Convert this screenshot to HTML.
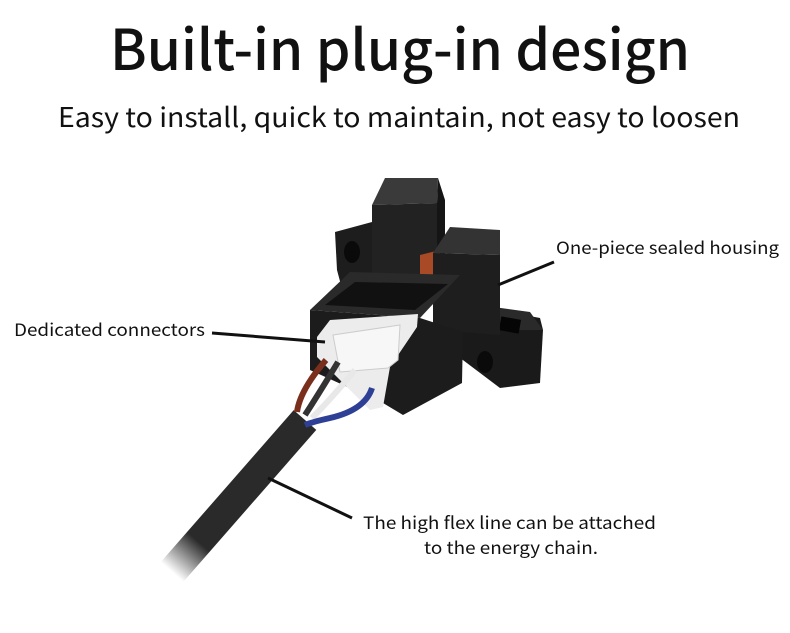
<!DOCTYPE html>
<html><head><meta charset="utf-8"><style>
html,body{margin:0;padding:0;background:#fff}
svg{display:block}
text{font-family:"Noto Sans CJK SC","Liberation Sans",sans-serif;fill:#111}
</style></head><body>
<svg width="790" height="633" viewBox="0 0 790 633" xmlns="http://www.w3.org/2000/svg">
<defs>
<linearGradient id="cg" x1="305" y1="420" x2="172" y2="572" gradientUnits="userSpaceOnUse">
<stop offset="0" stop-color="#2a2a2a"/><stop offset="0.8" stop-color="#2a2a2a"/><stop offset="1" stop-color="#fff"/>
</linearGradient>
</defs>
<rect width="790" height="633" fill="#fff"/>
<text x="400" y="70" font-size="56" font-weight="500" text-anchor="middle" textLength="580" lengthAdjust="spacingAndGlyphs">Built-in plug-in design</text>
<text x="399" y="127" font-size="27" text-anchor="middle" textLength="682" lengthAdjust="spacingAndGlyphs">Easy to install, quick to maintain, not easy to loosen</text>

<!-- cable -->
<path d="M305 420 L172 572" stroke="url(#cg)" stroke-width="30"/>

<!-- rear base block -->
<polygon points="335,232 372,222 372,290 345,300 337,270" fill="#1d1d1d"/>
<ellipse cx="352" cy="252" rx="8" ry="11" fill="#0a0a0a"/>
<!-- rear pillar -->
<polygon points="372,205 385,178 438,178 437,203" fill="#3a3a3a"/>
<polygon points="372,205 437,203 437,290 372,292" fill="#222"/>
<polygon points="437,203 438,178 445,200 445,285 437,290" fill="#151515"/>
<!-- orange coil -->
<polygon points="420,255 440,250 440,300 420,305" fill="#a84a25"/>
<!-- right wing -->
<polygon points="443,300 540,318 543,330 540,383 500,388 443,345" fill="#1a1a1a"/>
<polygon points="443,300 530,312 543,330 495,330" fill="#2a2a2a"/>
<rect x="500" y="318" width="20" height="14" fill="#050505" transform="rotate(10 510 325)"/>
<ellipse cx="485" cy="362" rx="8" ry="11" fill="#0a0a0a"/>
<!-- front pillar -->
<polygon points="433,253 450,227 500,230 500,255" fill="#333"/>
<polygon points="433,253 500,255 500,335 433,330" fill="#1e1e1e"/>
<!-- main base -->
<polygon points="310,310 350,272 460,275 420,318" fill="#2a2a2a"/>
<polygon points="325,305 355,282 448,284 415,310" fill="#111"/>
<polygon points="310,310 420,318 463,332 462,383 403,415 383,403 310,370" fill="#1c1c1c"/>
<!-- white connector -->
<polygon points="317,337 330,320 418,314 417,327 390,367 383,407 370,410 317,357" fill="#ececec"/>
<polygon points="333,335 400,325 398,360 388,368 340,372" fill="#f7f7f7" stroke="#ccc" stroke-width="1"/>
<!-- wires -->
<path d="M326 360 Q300 390 297 412" stroke="#7a2f1d" stroke-width="6" fill="none"/>
<path d="M338 362 Q318 395 305 415" stroke="#333" stroke-width="6" fill="none"/>
<path d="M355 370 Q330 400 312 418" stroke="#e8e8e8" stroke-width="6" fill="none"/>
<path d="M372 388 Q365 410 330 418 Q312 422 305 425" stroke="#2e3f96" stroke-width="6" fill="none"/>

<!-- leader lines -->
<line x1="212" y1="333" x2="325" y2="342" stroke="#111" stroke-width="3"/>
<line x1="498" y1="285" x2="554" y2="262" stroke="#111" stroke-width="3"/>
<line x1="268" y1="478" x2="352" y2="518" stroke="#111" stroke-width="3"/>

<text x="14" y="336" font-size="17" textLength="191" lengthAdjust="spacingAndGlyphs">Dedicated connectors</text>
<text x="556" y="254" font-size="17" textLength="223" lengthAdjust="spacingAndGlyphs">One-piece sealed housing</text>
<text x="363" y="529" font-size="17" textLength="293" lengthAdjust="spacingAndGlyphs">The high flex line can be attached</text>
<text x="424" y="554" font-size="17" textLength="174" lengthAdjust="spacingAndGlyphs">to the energy chain.</text>
</svg>
</body></html>
